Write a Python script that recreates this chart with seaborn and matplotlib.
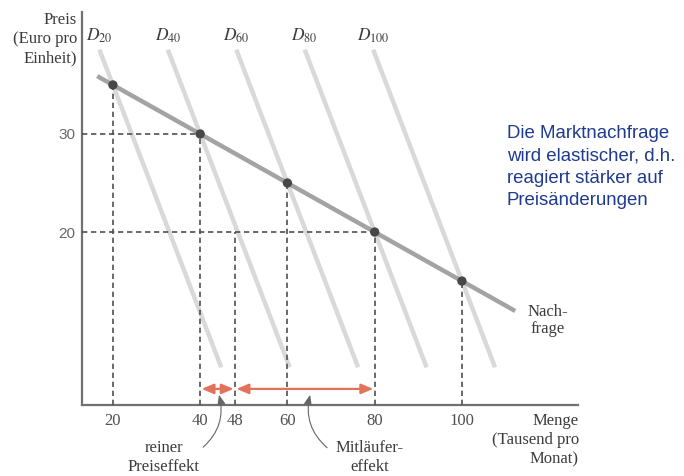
import numpy as np
import pandas as pd
import matplotlib
matplotlib.use("Agg")
import matplotlib.pyplot as plt
import seaborn as sns

# Market demand: equilibrium quantities (thousand per month) and prices (euro)
quantities = [20, 40, 60, 80, 100]
prices = [35, 30, 25, 20, 15]
curve_labels = ["$D_{20}$", "$D_{40}$", "$D_{60}$", "$D_{80}$", "$D_{100}$"]

# Individual demand curves for each expected market size
d_slope = -1.16
d_price_top = 38.6
d_price_bottom = 6.2

# Market demand line extent
market_q = [16.4, 112.2]
market_slope = -0.25
market_intercept = 40

# Extra quantity marking the pure price effect
pure_price_q = 48

x_ticks = [20, 40, 48, 60, 80, 100]
y_ticks = [20, 30]

sns.set_theme(style="white")
plt.rcParams["font.family"] = ["Liberation Serif", "DejaVu Serif"]
plt.rcParams["mathtext.fontset"] = "stix"

fig = plt.figure(figsize=(6.84, 4.76), dpi=100)
ax = fig.add_axes([0.12, 0.149, 0.725, 0.826])
x_lo, x_hi = 12.93, 126.6
y_lo, y_hi = 2.35, 42.45
ax.set_xlim(x_lo, x_hi)
ax.set_ylim(y_lo, y_hi)

text_col = "#3c3c3c"
dash_col = "#505050"
dash_style = (0, (3.2, 2.2))

# Individual demand curves D20 ... D100
rows = []
for lab, q, p in zip(curve_labels, quantities, prices):
    for pp in (d_price_top, d_price_bottom):
        rows.append({"curve": lab, "q": q + (pp - p) / d_slope, "p": pp})
d_df = pd.DataFrame(rows)
sns.lineplot(data=d_df, x="q", y="p", units="curve", estimator=None,
             color="#d9d9d9", lw=3.2, ax=ax, solid_capstyle="butt", zorder=1)

for lab, q, p in zip(curve_labels, quantities, prices):
    q_top = q + (d_price_top - p) / d_slope
    ax.annotate(lab, (q_top, d_price_top), xytext=(0, 3), textcoords="offset points",
                ha="center", va="bottom", fontsize=12.5, color=text_col)

# Market demand curve
m_df = pd.DataFrame({"q": market_q,
                     "p": [market_intercept + market_slope * q for q in market_q]})
sns.lineplot(data=m_df, x="q", y="p", color="#a3a3a3", lw=3.2, ax=ax,
             solid_capstyle="butt", zorder=2)

# Dashed guides
for q, p in zip(quantities, prices):
    ax.vlines(q, y_lo, p, colors=dash_col, lw=1.2, linestyles=dash_style, zorder=3)
ax.vlines(pure_price_q, y_lo, 20, colors=dash_col, lw=1.2, linestyles=dash_style, zorder=3)
ax.hlines(30, x_lo, 40, colors=dash_col, lw=1.2, linestyles=dash_style, zorder=3)
ax.hlines(20, x_lo, 80, colors=dash_col, lw=1.2, linestyles=dash_style, zorder=3)

# Equilibrium points
sns.scatterplot(x=quantities, y=prices, color="#474747", s=45, edgecolor="none",
                ax=ax, zorder=5)

# Effect arrows
arrow_col = "#e2735a"
arrow_y = 4.0
for a, b in [(40, pure_price_q), (pure_price_q, 80)]:
    ax.annotate("", xy=(b, arrow_y), xytext=(a, arrow_y),
                arrowprops=dict(arrowstyle="<|-|>,head_length=0.6,head_width=0.25",
                                color=arrow_col, lw=1.6, shrinkA=1, shrinkB=1))

# Effect labels with curved pointers
ax.text(31.7, -3.0, "reiner\nPreiseffekt", ha="center", va="center",
        fontsize=12, color=text_col, linespacing=1.2)
ax.annotate("", xy=(44.3, 3.4), xytext=(40.7, -1.94),
            arrowprops=dict(arrowstyle="-|>,head_length=0.5,head_width=0.2",
                            color="#666666", lw=0.8, shrinkA=0, shrinkB=0,
                            connectionstyle="arc3,rad=0.3"))
ax.text(78.9, -3.0, "Mitläufer-\neffekt", ha="center", va="center",
        fontsize=12, color=text_col, linespacing=1.2)
ax.annotate("", xy=(65.2, 3.4), xytext=(69.1, -2.0),
            arrowprops=dict(arrowstyle="-|>,head_length=0.5,head_width=0.2",
                            color="#666666", lw=0.8, shrinkA=0, shrinkB=0,
                            connectionstyle="arc3,rad=-0.3"))

ax.text(119.7, 12.7, "Nach-\nfrage", ha="center", va="top", fontsize=12,
        color=text_col, linespacing=1.12)

# Axes styling
for side in ["top", "right"]:
    ax.spines[side].set_visible(False)
for side in ["left", "bottom"]:
    ax.spines[side].set_color("#707070")
    ax.spines[side].set_linewidth(1.6)
ax.set_xticks(x_ticks)
ax.set_yticks(y_ticks)
ax.tick_params(axis="x", length=0, labelsize=12, colors="#505050", pad=6)
ax.tick_params(axis="y", length=0, labelsize=11, colors="#686868", pad=5)
for lbl in ax.get_yticklabels():
    lbl.set_fontfamily(["Liberation Sans", "DejaVu Sans"])
ax.set_xlabel("")
ax.set_ylabel("")

fig.text(77 / 684, 1 - 12 / 476, "Preis\n(Euro pro\nEinheit)", ha="right", va="top",
         fontsize=12, color=text_col, linespacing=1.25)
fig.text(579 / 684, 1 - 413 / 476, "Menge\n(Tausend pro\nMonat)", ha="right", va="top",
         fontsize=12, color=text_col, linespacing=1.25)

fig.text(507 / 684, 1 - 125 / 476,
         "Die Marktnachfrage\nwird elastischer, d.h.\nreagiert stärker auf\nPreisänderungen",
         ha="left", va="top", fontsize=13.4, color="#1f3a8f",
         family=["Liberation Sans", "DejaVu Sans"], linespacing=1.42)

fig.savefig("out.png", dpi=100)
